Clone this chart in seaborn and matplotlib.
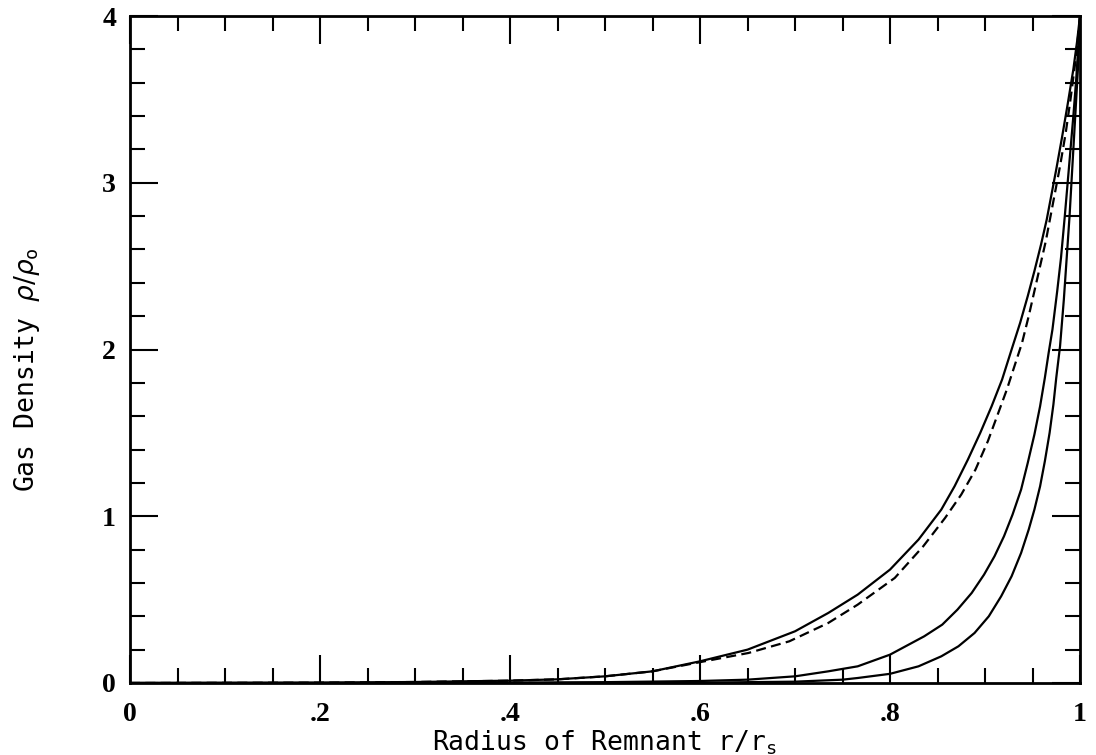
import matplotlib
matplotlib.use("Agg")
import matplotlib.pyplot as plt
import seaborn as sns
import pandas as pd
from matplotlib.ticker import MultipleLocator, FixedLocator

# Density profiles rho/rho_0 against fractional radius r/r_s
r_outer = [0.0, 0.2, 0.3, 0.4, 0.45, 0.5, 0.55, 0.6, 0.65, 0.7, 0.735, 0.766, 0.8,
           0.83, 0.854, 0.868, 0.882, 0.895, 0.907, 0.918, 0.928, 0.937, 0.945, 0.952,
           0.959, 0.965, 0.97, 0.975, 0.981, 0.987, 0.993, 0.997, 1.0]
rho_outer = [0.0, 0.002, 0.006, 0.014, 0.022, 0.04, 0.07, 0.13, 0.20, 0.31, 0.42, 0.53, 0.68,
             0.86, 1.04, 1.18, 1.34, 1.50, 1.66, 1.82, 2.0, 2.16, 2.32, 2.47,
             2.63, 2.78, 2.93, 3.08, 3.27, 3.47, 3.68, 3.85, 4.0]

r_dashed = [0.0, 0.2, 0.3, 0.4, 0.45, 0.5, 0.55, 0.6, 0.651, 0.694, 0.735, 0.766, 0.805,
            0.835, 0.858, 0.875, 0.89, 0.903, 0.914, 0.923, 0.931, 0.939, 0.946, 0.952,
            0.958, 0.964, 0.969, 0.974, 0.979, 0.985, 0.99, 0.995, 0.998, 1.0]
rho_dashed = [0.0, 0.002, 0.006, 0.014, 0.022, 0.04, 0.07, 0.125, 0.18, 0.25, 0.36, 0.47, 0.63,
              0.82, 0.99, 1.13, 1.28, 1.45, 1.62, 1.76, 1.90, 2.04, 2.20, 2.35,
              2.50, 2.65, 2.80, 2.95, 3.10, 3.30, 3.50, 3.72, 3.88, 4.0]

r_middle = [0.0, 0.3, 0.4, 0.5, 0.6, 0.65, 0.7, 0.735, 0.766, 0.8, 0.836, 0.855, 0.871,
            0.886, 0.899, 0.91, 0.92, 0.929, 0.938, 0.945, 0.952, 0.958, 0.963, 0.967,
            0.971, 0.976, 0.98, 0.984, 0.987, 0.99, 0.993, 0.996, 0.998, 1.0]
rho_middle = [0.0, 0.001, 0.002, 0.005, 0.012, 0.02, 0.04, 0.07, 0.10, 0.17, 0.28, 0.35, 0.44,
              0.54, 0.65, 0.76, 0.88, 1.01, 1.16, 1.32, 1.49, 1.66, 1.83, 1.98,
              2.12, 2.35, 2.55, 2.80, 3.0, 3.2, 3.4, 3.62, 3.8, 4.0]

r_inner = [0.0, 0.4, 0.5, 0.6, 0.7, 0.75, 0.766, 0.8, 0.83, 0.854, 0.872, 0.889, 0.904,
           0.917, 0.928, 0.938, 0.946, 0.952, 0.958, 0.963, 0.968, 0.972, 0.975, 0.979,
           0.983, 0.986, 0.989, 0.992, 0.995, 0.998, 1.0]
rho_inner = [0.0, 0.0005, 0.001, 0.002, 0.008, 0.02, 0.03, 0.055, 0.10, 0.16, 0.22, 0.30, 0.40,
             0.52, 0.64, 0.78, 0.92, 1.04, 1.18, 1.33, 1.50, 1.67, 1.83, 2.02,
             2.30, 2.55, 2.80, 3.10, 3.40, 3.70, 4.0]

x_major = [0.0, 0.2, 0.4, 0.6, 0.8, 1.0]
x_major_labels = ["0", ".2", ".4", ".6", ".8", "1"]
y_major = [0, 1, 2, 3, 4]
y_major_labels = ["0", "1", "2", "3", "4"]

sns.set_theme(style="white")
plt.rcParams["font.family"] = ["DejaVu Sans Mono", "DejaVu Sans"]
plt.rcParams["mathtext.fontset"] = "dejavusans"

fig = plt.figure(figsize=(10.96, 7.55), dpi=100)
ax = fig.add_axes([130 / 1096, 1 - 683 / 755, 950 / 1096, 667 / 755])

profiles = [
    (r_outer, rho_outer, "-"),
    (r_dashed, rho_dashed, (0, (4.5, 2.4))),
    (r_middle, rho_middle, "-"),
    (r_inner, rho_inner, "-"),
]
for r, rho, ls in profiles:
    df = pd.DataFrame({"r": r, "rho": rho})
    sns.lineplot(data=df, x="r", y="rho", ax=ax, color="black", linewidth=1.6,
                 linestyle=ls, sort=False, estimator=None)

ax.set_xlim(0, 1)
ax.set_ylim(0, 4)

for side in ["left", "right", "top", "bottom"]:
    ax.spines[side].set_visible(True)
    ax.spines[side].set_color("black")
    ax.spines[side].set_linewidth(2.0)

ax.xaxis.set_major_locator(FixedLocator(x_major))
ax.set_xticklabels(x_major_labels)
ax.xaxis.set_minor_locator(MultipleLocator(0.05))
ax.yaxis.set_major_locator(FixedLocator(y_major))
ax.set_yticklabels(y_major_labels)
ax.yaxis.set_minor_locator(MultipleLocator(0.2))

ax.tick_params(which="both", direction="in", top=True, right=True,
               bottom=True, left=True, color="black", width=1.5)
ax.tick_params(which="major", length=20)
ax.tick_params(which="minor", length=10.5)
ax.tick_params(axis="x", which="major", pad=14)
ax.tick_params(axis="y", which="major", pad=10)

for lab in ax.get_xticklabels() + ax.get_yticklabels():
    lab.set_fontfamily("Liberation Serif")
    lab.set_fontweight("bold")
    lab.set_fontsize(20)
    lab.set_color("black")

ax.set_xlabel(r"Radius of Remnant $\mathregular{r/r_s}$", fontsize=19, color="black")
ax.set_ylabel(r"Gas Density $\rho/\rho_\mathregular{o}$", fontsize=19, color="black")
ax.xaxis.set_label_coords(0.5, -0.068)
ax.yaxis.set_label_coords(-0.093, 0.47)

ax.grid(False)
fig.savefig("out.png", dpi=100, facecolor="white")
